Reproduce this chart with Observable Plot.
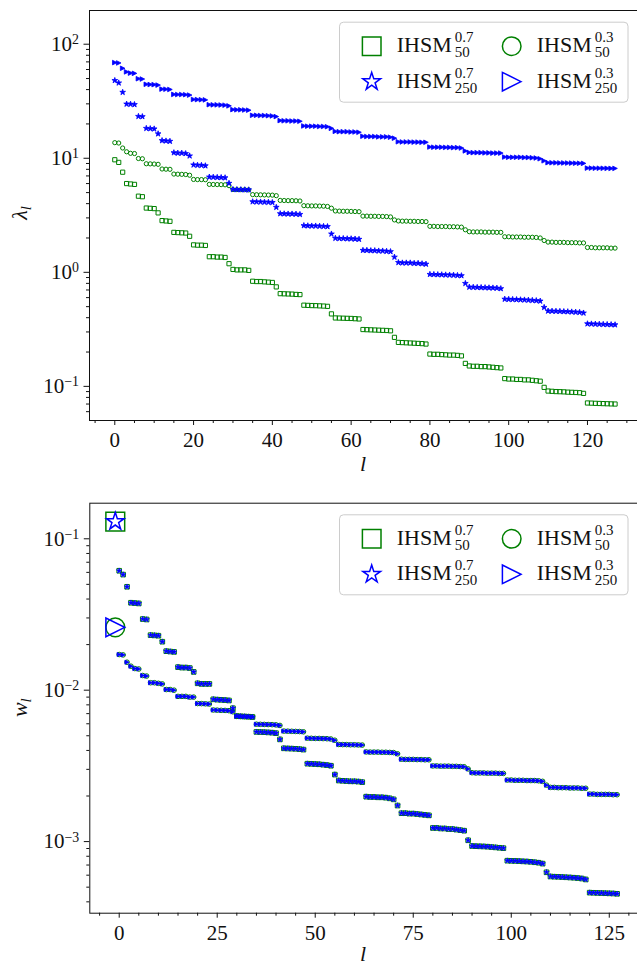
<!DOCTYPE html>
<html><head><meta charset="utf-8">
<script src="https://cdn.jsdelivr.net/npm/d3@7"></script>
<script src="https://cdn.jsdelivr.net/npm/@observablehq/plot@0.6"></script>
<style>
body{margin:0;background:#fff;}
#fig{width:637px;height:967px;}
#fig svg{display:block;}
</style></head>
<body><div id="fig"></div>
<script>
// ---------- data ----------
const lIndex = d3.range(128);
const lamSq07_50 = [9.7, 9.2, 7.55, 6.0, 5.95, 5.9, 4.65, 4.6, 3.66, 3.64, 3.62, 3.32, 2.84, 2.82, 2.80,
 2.24, 2.23, 2.22, 2.21, 2.07, 1.74, 1.73, 1.73, 1.72, 1.37, 1.37, 1.36, 1.36, 1.35, 1.19,
 1.06, 1.05, 1.05, 1.05, 1.04, 0.835, 0.83, 0.83, 0.825, 0.82, 0.815, 0.745,
 0.65, 0.648, 0.646, 0.644, 0.64, 0.638, 0.515, 0.513, 0.511, 0.51, 0.508, 0.506, 0.503, 0.432,
 0.398, 0.397, 0.396, 0.395, 0.394, 0.392, 0.39, 0.315, 0.314, 0.313, 0.312, 0.311, 0.31, 0.309, 0.307, 0.269,
 0.243, 0.242, 0.241, 0.24, 0.239, 0.238, 0.237, 0.235, 0.192, 0.191, 0.191, 0.19, 0.189, 0.188, 0.188, 0.187, 0.185, 0.159,
 0.151, 0.15, 0.15, 0.149, 0.149, 0.148, 0.147, 0.146, 0.145, 0.117, 0.116, 0.116, 0.115, 0.115, 0.114, 0.114, 0.113, 0.112, 0.111, 0.098,
 0.091, 0.0905, 0.09, 0.0898, 0.0895, 0.089, 0.0887, 0.0884, 0.088, 0.0868, 0.0715, 0.0713, 0.071, 0.0708, 0.0706, 0.0704, 0.0702, 0.07];
const lamCi03_50 = [13.7, 13.6, 12.3, 11.4, 11.05, 11.0, 9.95, 9.9, 8.95, 8.93, 8.9, 8.85, 8.05, 8.02, 8.0,
 7.27, 7.25, 7.23, 7.2, 7.1, 6.52, 6.5, 6.5, 6.48, 5.9, 5.89, 5.88, 5.87, 5.85, 5.75,
 5.32, 5.31, 5.3, 5.3, 5.28, 4.8, 4.79, 4.78, 4.77, 4.76, 4.75, 4.7, 4.27, 4.26, 4.25, 4.25, 4.24, 4.22,
 3.84, 3.83, 3.82, 3.82, 3.81, 3.8, 3.78, 3.65, 3.45, 3.44, 3.43, 3.43, 3.42, 3.41, 3.4,
 3.11, 3.11, 3.1, 3.1, 3.09, 3.09, 3.08, 3.06, 2.88, 2.82, 2.81, 2.81, 2.8, 2.8, 2.79, 2.79, 2.78,
 2.53, 2.53, 2.52, 2.52, 2.52, 2.51, 2.51, 2.5, 2.49, 2.36, 2.27, 2.26, 2.26, 2.26, 2.25, 2.25, 2.25, 2.24, 2.24,
 2.05, 2.05, 2.04, 2.04, 2.04, 2.03, 2.03, 2.03, 2.02, 2.0, 1.9,
 1.84, 1.84, 1.83, 1.83, 1.83, 1.82, 1.82, 1.82, 1.81, 1.81, 1.65, 1.65, 1.64, 1.64, 1.64, 1.64, 1.63, 1.63];
const lamSt07_250 = [48.1, 45.8, 37.9, 29.9, 29.8, 29.6, 23.3, 23.2, 18.3, 18.2, 18.1, 16.4, 14.3, 14.2, 14.1,
 11.2, 11.1, 11.1, 11.0, 10.5, 8.75, 8.7, 8.68, 8.6, 6.85, 6.83, 6.8, 6.78, 6.75, 6.04,
 5.33, 5.32, 5.31, 5.3, 5.29, 4.16, 4.15, 4.14, 4.13, 4.12, 4.1, 3.72, 3.27, 3.26, 3.25, 3.25, 3.24, 3.22,
 2.57, 2.56, 2.55, 2.55, 2.54, 2.53, 2.52, 2.17, 1.99, 1.98, 1.98, 1.97, 1.97, 1.96, 1.95,
 1.56, 1.56, 1.55, 1.55, 1.54, 1.54, 1.53, 1.52, 1.36, 1.22, 1.21, 1.21, 1.21, 1.2, 1.2, 1.19, 1.18,
 0.96, 0.958, 0.955, 0.953, 0.95, 0.948, 0.945, 0.94, 0.935, 0.8, 0.742, 0.74, 0.738, 0.736, 0.734, 0.732, 0.73, 0.727, 0.72,
 0.582, 0.58, 0.579, 0.577, 0.575, 0.573, 0.571, 0.568, 0.565, 0.56, 0.493,
 0.458, 0.457, 0.456, 0.455, 0.453, 0.452, 0.45, 0.448, 0.446, 0.44, 0.354, 0.353, 0.352, 0.351, 0.35, 0.349, 0.348, 0.347];
const lamTr03_250 = [69, 68.5, 61.5, 57.2, 55.8, 55.5, 49.8, 49.5, 44.5, 44.3, 44.2, 43.8, 40.4, 40.3, 40.1,
 36.3, 36.2, 36.2, 36.1, 35.8, 32.8, 32.7, 32.6, 32.5, 29.5, 29.4, 29.4, 29.3, 29.2, 28.8,
 26.7, 26.6, 26.6, 26.5, 26.4, 23.8, 23.8, 23.7, 23.7, 23.6, 23.5, 23.2, 21.4, 21.3, 21.3, 21.2, 21.2, 21.1,
 19.2, 19.1, 19.1, 19.1, 19.0, 19.0, 18.9, 18.3, 17.2, 17.1, 17.1, 17.1, 17.0, 17.0, 16.9,
 15.6, 15.5, 15.5, 15.5, 15.4, 15.4, 15.4, 15.3, 15.0, 13.95, 13.9, 13.9, 13.9, 13.85, 13.85, 13.8, 13.8,
 12.55, 12.5, 12.5, 12.5, 12.45, 12.45, 12.4, 12.4, 12.3, 11.6, 11.25, 11.2, 11.2, 11.2, 11.15, 11.15, 11.1, 11.1, 11.1,
 10.25, 10.2, 10.2, 10.2, 10.2, 10.15, 10.15, 10.1, 10.05, 9.9, 9.5,
 9.15, 9.13, 9.12, 9.1, 9.1, 9.08, 9.07, 9.05, 9.04, 9.02, 8.2, 8.2, 8.18, 8.18, 8.17, 8.16, 8.15, 8.15];
const w07 = [0.0615, 0.058, 0.0482, 0.0378, 0.0376, 0.0374, 0.0295, 0.0293, 0.0231, 0.023, 0.0229, 0.0209,
 0.0181, 0.018, 0.0179, 0.0142, 0.0141, 0.0141, 0.014, 0.0132, 0.0111, 0.011, 0.011, 0.011,
 0.0087, 0.00866, 0.00863, 0.0086, 0.00855, 0.0076, 0.00675, 0.00672, 0.0067, 0.00668, 0.00665,
 0.0053, 0.00529, 0.00528, 0.00526, 0.00524, 0.0052, 0.00473, 0.00413, 0.00412, 0.00411, 0.0041, 0.00408, 0.00405,
 0.00327, 0.00326, 0.00325, 0.00324, 0.00322, 0.0032, 0.00317, 0.00277,
 0.00253, 0.00252, 0.00251, 0.0025, 0.0025, 0.00249, 0.00247,
 0.00198, 0.00197, 0.00197, 0.00196, 0.00196, 0.00195, 0.00193, 0.0019, 0.00173,
 0.00154, 0.00154, 0.00153, 0.00153, 0.00152, 0.00151, 0.0015, 0.00149,
 0.00123, 0.00123, 0.00122, 0.00122, 0.00121, 0.00121, 0.0012, 0.00119, 0.00118, 0.00102,
 0.000935, 0.000932, 0.00093, 0.000928, 0.000925, 0.00092, 0.000915, 0.00091, 0.000905,
 0.000748, 0.000746, 0.000745, 0.000743, 0.00074, 0.000738, 0.000735, 0.00073, 0.000725, 0.000715, 0.000627,
 0.000588, 0.000586, 0.000585, 0.000583, 0.000581, 0.000579, 0.000577, 0.000574, 0.00057, 0.000562,
 0.00046, 0.000459, 0.000458, 0.000457, 0.000456, 0.000455, 0.000454, 0.000452];
const w03 = [0.0172, 0.0171, 0.0153, 0.0144, 0.0139, 0.0138, 0.0125, 0.0124, 0.0112, 0.0112, 0.0111, 0.011,
 0.0101, 0.0101, 0.01, 0.0091, 0.0091, 0.0091, 0.009, 0.009, 0.00816, 0.00815, 0.00813, 0.0081,
 0.0074, 0.00738, 0.00736, 0.00735, 0.00732, 0.0072, 0.00671, 0.0067, 0.00669, 0.00668, 0.00666,
 0.00596, 0.00595, 0.00594, 0.00593, 0.00592, 0.0059, 0.00585, 0.00537, 0.00536, 0.00535, 0.00534, 0.00533, 0.00531,
 0.00482, 0.00481, 0.0048, 0.0048, 0.00479, 0.00478, 0.00476, 0.00467,
 0.00438, 0.00437, 0.00437, 0.00436, 0.00436, 0.00435, 0.00434,
 0.00391, 0.0039, 0.0039, 0.0039, 0.00389, 0.00389, 0.00388, 0.00387, 0.0038,
 0.0035, 0.00349, 0.00349, 0.00349, 0.00348, 0.00348, 0.00347, 0.00347,
 0.00316, 0.00316, 0.00315, 0.00315, 0.00315, 0.00314, 0.00314, 0.00313, 0.00312, 0.00302,
 0.00285, 0.00284, 0.00284, 0.00284, 0.00283, 0.00283, 0.00283, 0.00282, 0.00282,
 0.00255, 0.00255, 0.00254, 0.00254, 0.00254, 0.00253, 0.00253, 0.00253, 0.00252, 0.0025, 0.00236,
 0.00228, 0.00228, 0.00227, 0.00227, 0.00227, 0.00226, 0.00226, 0.00226, 0.00225, 0.00225,
 0.00206, 0.00206, 0.00205, 0.00205, 0.00205, 0.00205, 0.00204, 0.00204];
// first (large-marker) weights
const wHeadL = [-1];
const wHead07 = [0.13];
const wHead03 = [0.026];

const xTicksTop = [0, 20, 40, 60, 80, 100, 120];
const xMinorTop = [-5, 5, 10, 15, 25, 30, 35, 45, 50, 55, 65, 70, 75, 85, 90, 95, 105, 110, 115, 125, 130];
const xTicksBot = [0, 25, 50, 75, 100, 125];
const xMinorBot = [-5, 5, 10, 15, 20, 30, 35, 40, 45, 55, 60, 65, 70, 80, 85, 90, 95, 105, 110, 115, 120, 130];
const yTicksTop = [0.1, 1, 10, 100];
const yTicksBot = [0.001, 0.01, 0.1];
const minorMult = [2, 3, 4, 5, 6, 7, 8, 9];

const legendItems = [
  {key: "sq", color: "green", sup: "0.7", sub: "50"},
  {key: "ci", color: "green", sup: "0.3", sub: "50"},
  {key: "st", color: "blue", sup: "0.7", sub: "250"},
  {key: "tr", color: "blue", sup: "0.3", sub: "250"}
];

// ---------- symbols (r = half width) ----------
const R = s => Math.sqrt(s / Math.PI);
const sym = {
  sq: {draw(c, s) { const r = R(s); c.rect(-r, -r, 2 * r, 2 * r); }},
  ci: {draw(c, s) { const r = R(s); c.moveTo(r, 0); c.arc(0, 0, r, 0, 2 * Math.PI); }},
  tr: {draw(c, s) { const r = R(s); c.moveTo(r, 0); c.lineTo(-r, r); c.lineTo(-r, -r); c.closePath(); }},
  st: {draw(c, s) { const r = R(s), ri = r * 0.381966;
    for (let i = 0; i < 10; i++) { const a = -Math.PI / 2 + i * Math.PI / 5, rr = i % 2 ? ri : r;
      const x = rr * Math.cos(a), y = rr * Math.sin(a); i ? c.lineTo(x, y) : c.moveTo(x, y); }
    c.closePath(); }}
};

const FONT = "'Liberation Serif', 'DejaVu Serif', serif";
const minors = (lo, hi) => { const out = []; for (let e = -5; e <= 3; e++) for (const m of minorMult) { const v = m * Math.pow(10, e); if (v >= lo && v <= hi) out.push(v); } return out; };
const fmtPow = d => "10^" + Math.round(Math.log10(d));

function axesMarks(xT, xM, yT, yM) {
  return [
    Plot.axisX(xT, {tickSize: 5, tickPadding: 7, label: null}),
    Plot.axisX(xM, {tickSize: 3, text: null, label: null}),
    Plot.axisY(yT, {tickSize: 5.5, tickPadding: 5, tickFormat: fmtPow, label: null}),
    Plot.axisY(yM, {tickSize: 3, text: null, label: null}),
    Plot.frame({stroke: "#111", strokeWidth: 1})
  ];
}

function fixPow(svg) {
  d3.select(svg).selectAll("text").each(function() {
    const t = this.textContent;
    if (!/^10\^/.test(t)) return;
    const e = t.slice(3).replace("-", "\u2212");
    const s = d3.select(this); s.text(null);
    s.append("tspan").text("10");
    s.append("tspan").attr("dy", "-0.48em").attr("font-size", "0.66em").text(e);
  });
}

function addLegend(svg, y0) {
  const g = d3.select(svg).append("g").attr("font-family", FONT).attr("text-anchor", "start");
  g.append("rect").attr("x", 339.5).attr("y", y0 + 0.5).attr("width", 288.5).attr("height", 80)
    .attr("rx", 4).attr("fill", "white").attr("fill-opacity", 0.85).attr("stroke", "#cccccc");
  legendItems.forEach((it, i) => {
    const col = i % 2, row = Math.floor(i / 2);
    const cx = col ? 511.7 : 371.7, cy = y0 + (row ? 60 : 24.5);
    const tx = col ? 536.7 : 396.7, base = cy + 6;
    g.append("path").attr("transform", `translate(${cx},${cy})`)
      .attr("d", d3.symbol(sym[it.key], Math.PI * 9.3 * 9.3)())
      .attr("fill", "none").attr("stroke", it.color).attr("stroke-width", 1.5);
    const t = g.append("text").attr("font-size", 22).attr("fill", "#111").attr("text-anchor", "start");
    t.append("tspan").attr("x", tx).attr("y", base).text("IHSM");
    t.append("tspan").attr("x", tx + 58).attr("y", base - 10).attr("font-size", 15).text(it.sup);
    t.append("tspan").attr("x", tx + 58).attr("y", base + 5).attr("font-size", 15).text(it.sub);
  });
}

function addLabels(svg, yc, xBase, name) {
  const s = d3.select(svg);
  const t = s.append("text").attr("transform", `translate(27,${yc}) rotate(-90)`)
    .attr("text-anchor", "middle").attr("font-size", 22).attr("font-family", FONT).attr("fill", "#111");
  t.append("tspan").attr("font-style", "italic").text(name);
  t.append("tspan").attr("font-style", "italic").attr("font-size", 15).attr("dy", 4).text("l");
  s.append("text").attr("x", 363).attr("y", xBase).attr("text-anchor", "middle")
    .attr("font-size", 22).attr("font-style", "italic").attr("font-family", FONT).attr("fill", "#111").text("l");
}

// ---------- top chart: eigenvalues ----------
const topDom = [0.0502, 197.5];
const topPlot = Plot.plot({
  width: 637, height: 485, marginTop: 10, marginBottom: 65, marginLeft: 89, marginRight: 0,
  style: {fontFamily: FONT, fontSize: "21px", background: "white", color: "#111"},
  x: {domain: [-6.42, 132.7]},
  y: {type: "log", domain: topDom},
  marks: [
    ...axesMarks(xTicksTop, xMinorTop, yTicksTop, minors(topDom[0], topDom[1])),
    Plot.dot(lIndex, {x: d => d, y: (d, i) => lamSq07_50[i], symbol: sym.sq, r: 2.1, stroke: "green", fill: "none", strokeWidth: 1}),
    Plot.dot(lIndex, {x: d => d, y: (d, i) => lamCi03_50[i], symbol: sym.ci, r: 2.1, stroke: "green", fill: "none", strokeWidth: 1}),
    Plot.dot(lIndex, {x: d => d, y: (d, i) => lamSt07_250[i], symbol: sym.st, r: 3, stroke: "blue", fill: "blue", strokeWidth: 0.8}),
    Plot.dot(lIndex, {x: d => d, y: (d, i) => lamTr03_250[i], symbol: sym.tr, r: 2.3, stroke: "blue", fill: "blue", strokeWidth: 0.8})
  ]
});
fixPow(topPlot);
addLegend(topPlot, 21.7);
addLabels(topPlot, 213, 471, "\u03bb");

// ---------- bottom chart: weights ----------
const botDom = [3.365e-4, 0.1718];
const botPlot = Plot.plot({
  width: 637, height: 482, marginTop: 17.7, marginBottom: 54.3, marginLeft: 89.3, marginRight: 0,
  style: {fontFamily: FONT, fontSize: "21px", background: "white", color: "#111"},
  x: {domain: [-7.5, 132.2]},
  y: {type: "log", domain: botDom},
  marks: [
    ...axesMarks(xTicksBot, xMinorBot, yTicksBot, minors(botDom[0], botDom[1])),
    Plot.dot(lIndex, {x: d => d, y: (d, i) => w07[i], symbol: sym.sq, r: 2.3, stroke: "green", fill: "none", strokeWidth: 1}),
    Plot.dot(lIndex, {x: d => d, y: (d, i) => w03[i], symbol: sym.ci, r: 2.3, stroke: "green", fill: "none", strokeWidth: 1}),
    Plot.dot(lIndex, {x: d => d, y: (d, i) => w07[i], symbol: sym.st, r: 2.8, stroke: "blue", fill: "blue", strokeWidth: 0.8}),
    Plot.dot(lIndex, {x: d => d, y: (d, i) => w03[i], symbol: sym.tr, r: 2.1, stroke: "blue", fill: "blue", strokeWidth: 0.8}),
    Plot.dot(wHeadL, {x: d => d, y: (d, i) => wHead07[i], symbol: sym.sq, r: 9.4, stroke: "green", fill: "none", strokeWidth: 1.5}),
    Plot.dot(wHeadL, {x: d => d, y: (d, i) => wHead03[i], symbol: sym.ci, r: 9.4, stroke: "green", fill: "none", strokeWidth: 1.5}),
    Plot.dot(wHeadL, {x: d => d, y: (d, i) => wHead07[i], symbol: sym.st, r: 9.2, stroke: "blue", fill: "none", strokeWidth: 1.5}),
    Plot.dot(wHeadL, {x: d => d, y: (d, i) => wHead03[i], symbol: sym.tr, r: 9.4, stroke: "blue", fill: "none", strokeWidth: 1.5})
  ]
});
fixPow(botPlot);
addLegend(botPlot, 29.3);
addLabels(botPlot, 222.7, 476, "w");

document.getElementById("fig").append(topPlot, botPlot);
</script>
</body></html>
